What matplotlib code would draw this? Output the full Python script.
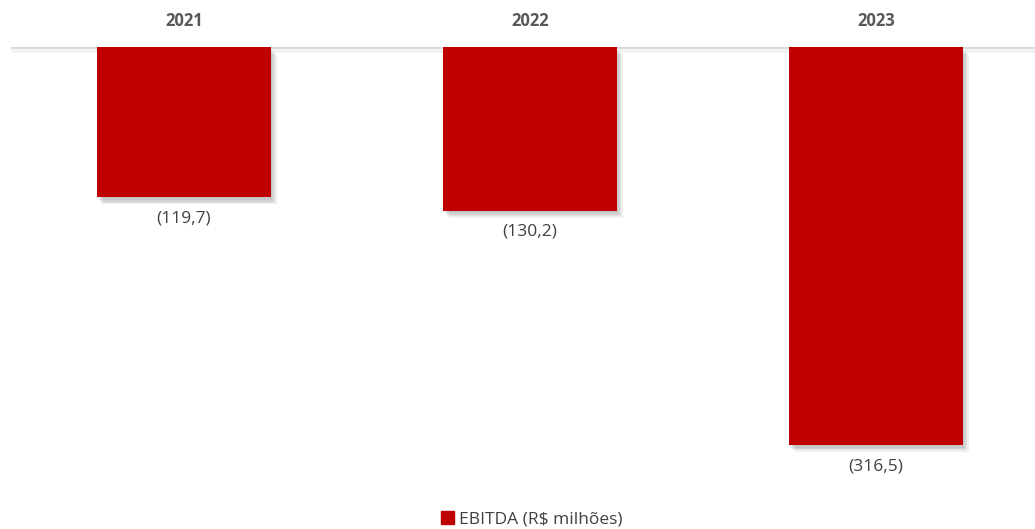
import matplotlib
matplotlib.use("Agg")
import matplotlib.pyplot as plt
import matplotlib.patheffects as pe
from matplotlib.patches import Patch

# EBITDA (R$ milhões), negative values
years = ["2021", "2022", "2023"]
ebitda = [-119.7, -130.2, -316.5]
labels = ["(119,7)", "(130,2)", "(316,5)"]

bar_color = "#C00000"
text_color = "#404040"

plt.rcParams["font.family"] = ["Open Sans", "DejaVu Sans"]

fig = plt.figure(figsize=(10.35, 5.29), dpi=100)
# axes spans from the zero line (y=47px) down to ~490px
ax = fig.add_axes([11 / 1035, 39 / 529, 1024 / 1035, 443 / 529])

# soft-ish drop shadow made of a few faint offset copies
shadow = [pe.SimplePatchShadow(offset=(d, -d - 1), shadow_rgbFace="#000000", alpha=0.06)
          for d in (1, 2, 3, 4)] + [pe.Normal()]
x = range(len(years))
bars = ax.bar(x, ebitda, width=0.503, color=bar_color, zorder=3)
for b in bars:
    b.set_path_effects(shadow)

ax.set_xlim(-0.5, -0.5 + 1024 / 346)
ax.set_ylim(-352.4, 0)

# zero line at the top
ax.axhline(0, color="#D9D9D9", lw=2, zorder=2,
           path_effects=[pe.SimpleLineShadow(offset=(0, -2), alpha=0.05, linewidth=4), pe.Normal()])

for i, (v, lab) in enumerate(zip(ebitda, labels)):
    ax.annotate(lab, (i, v), xytext=(0, -9.5), textcoords="offset points",
                ha="center", va="top", fontsize=12.5, color=text_color)

for i, yr in enumerate(years):
    ax.text(i, 1.0 + 17 / 443, yr, transform=ax.get_xaxis_transform(), ha="center", va="bottom",
            fontsize=12, fontweight="bold", color="#595959")

for s in ax.spines.values():
    s.set_visible(False)
ax.set_xticks([])
ax.set_yticks([])

fig.legend(handles=[Patch(color=bar_color, label="EBITDA (R$ milhões)")],
           loc="center", bbox_to_anchor=(532 / 1035, 1 - 519 / 529), frameon=False,
           fontsize=12.5, handlelength=0.75, handleheight=0.75, handletextpad=0.3,
           labelcolor=text_color)

fig.savefig("out.png", dpi=100)
